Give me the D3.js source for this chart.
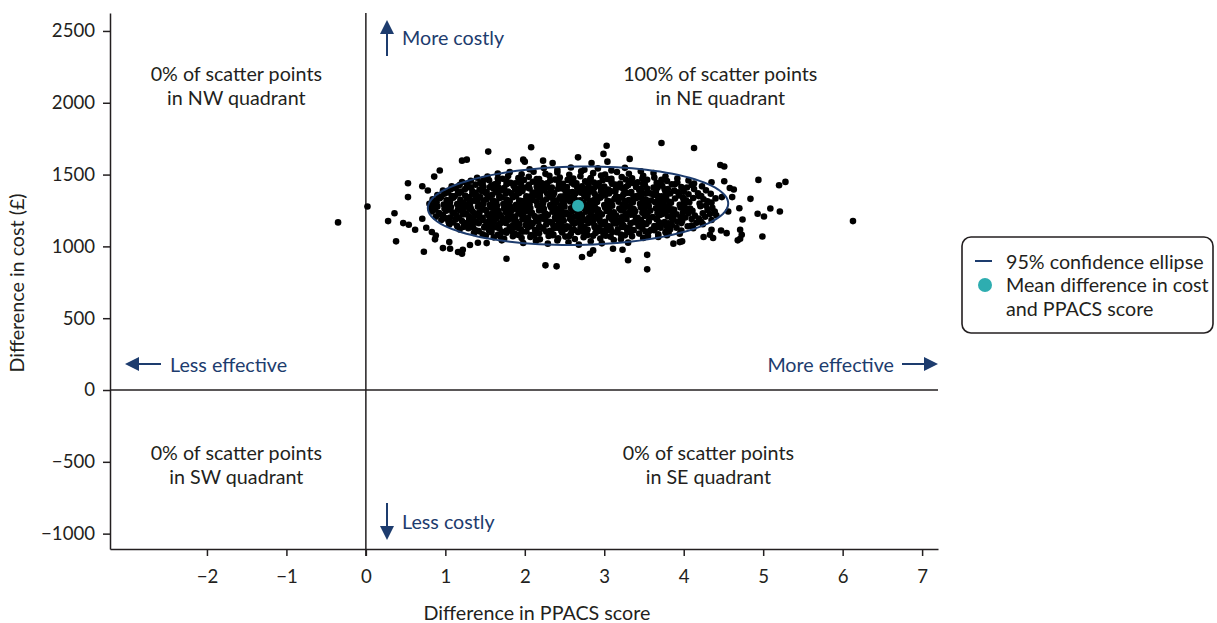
<!DOCTYPE html>
<html>
<head>
<meta charset="utf-8">
<script src="https://cdn.jsdelivr.net/npm/d3@7"></script>
<style>
  html, body { margin: 0; padding: 0; background: #fff; }
  svg { display: block; font-family: Lato, "Open Sans", sans-serif; }
</style>
</head>
<body>
<svg id="chart" width="1217" height="623"></svg>
<script>
// Bootstrap replicates: [difference in PPACS score, difference in cost (£)]
const scatterCore = [
  [1.98,1024],[2.14,1037],[2.29,1019],[2.41,1041],[2.55,1028],[2.68,1012],[2.83,1035],[2.97,1021],[3.12,1044],[3.30,1026],
  [1.61,1063],[1.74,1052],[1.85,1071],[1.96,1058],[2.07,1066],[2.19,1049],[2.30,1072],[2.42,1057],[2.51,1068],[2.63,1051],
  [2.74,1064],[2.86,1074],[2.95,1055],[3.08,1067],[3.21,1050],[3.35,1070],[3.49,1059],[3.68,1066],
  [1.36,1093],[1.47,1084],[1.58,1099],[1.66,1081],[1.77,1095],[1.88,1086],[1.97,1102],[2.08,1079],[2.18,1091],[2.27,1104],
  [2.36,1083],[2.47,1097],[2.58,1088],[2.67,1101],[2.78,1080],[2.89,1094],[2.99,1087],[3.10,1100],[3.21,1082],[3.33,1096],
  [3.44,1089],[3.56,1103],[3.68,1084],[3.81,1095],[3.95,1088],
  [1.18,1118],[1.29,1127],[1.38,1112],[1.49,1131],[1.58,1116],[1.68,1125],[1.77,1110],[1.86,1129],[1.95,1119],[2.04,1133],
  [2.13,1114],[2.23,1124],[2.32,1109],[2.41,1130],[2.51,1121],[2.60,1112],[2.70,1128],[2.79,1117],[2.88,1134],[2.98,1111],
  [3.08,1126],[3.17,1119],[3.27,1132],[3.37,1113],[3.48,1124],[3.59,1115],[3.71,1130],[3.83,1120],[3.97,1111],[4.12,1127],
  [1.05,1152],[1.15,1141],[1.24,1158],[1.33,1146],[1.42,1161],[1.50,1139],[1.59,1155],[1.67,1147],[1.76,1163],[1.84,1142],
  [1.93,1156],[2.01,1149],[2.10,1160],[2.19,1138],[2.27,1153],[2.36,1145],[2.45,1162],[2.53,1140],[2.62,1157],[2.71,1148],
  [2.80,1163],[2.88,1143],[2.97,1154],[3.06,1139],[3.15,1159],[3.24,1147],[3.33,1161],[3.43,1144],[3.53,1156],[3.63,1141],
  [3.74,1158],[3.85,1149],[3.97,1162],[4.10,1145],[4.24,1155],
  [0.95,1183],[1.04,1171],[1.13,1188],[1.21,1176],[1.30,1191],[1.38,1169],[1.47,1184],[1.55,1177],[1.64,1192],[1.72,1170],
  [1.80,1186],[1.89,1174],[1.97,1189],[2.06,1168],[2.14,1182],[2.23,1193],[2.31,1172],[2.40,1187],[2.49,1178],[2.57,1190],
  [2.66,1167],[2.75,1184],[2.83,1175],[2.92,1192],[3.01,1171],[3.10,1185],[3.19,1179],[3.28,1191],[3.37,1168],[3.46,1183],
  [3.56,1174],[3.66,1189],[3.76,1170],[3.87,1186],[3.98,1177],[4.10,1190],[4.22,1172],[4.35,1184],
  [0.88,1207],[0.97,1218],[1.06,1201],[1.14,1214],[1.22,1222],[1.31,1204],[1.39,1216],[1.47,1199],[1.55,1211],[1.63,1223],
  [1.71,1203],[1.79,1215],[1.88,1208],[1.96,1221],[2.04,1198],[2.12,1212],[2.21,1205],[2.29,1219],[2.38,1200],[2.46,1213],
  [2.55,1224],[2.63,1206],[2.72,1217],[2.80,1198],[2.89,1210],[2.97,1222],[3.06,1202],[3.15,1215],[3.24,1207],[3.33,1220],
  [3.42,1199],[3.51,1212],[3.61,1204],[3.70,1218],[3.80,1209],[3.91,1223],[4.02,1201],[4.14,1214],[4.27,1206],[4.41,1217],
  [0.83,1243],[0.92,1232],[1.01,1248],[1.09,1237],[1.18,1251],[1.26,1229],[1.34,1244],[1.43,1236],[1.51,1252],[1.59,1230],
  [1.67,1246],[1.76,1238],[1.84,1253],[1.92,1231],[2.01,1245],[2.09,1234],[2.18,1250],[2.26,1228],[2.35,1242],[2.43,1254],
  [2.52,1235],[2.60,1247],[2.69,1229],[2.77,1241],[2.86,1253],[2.94,1233],[3.03,1246],[3.12,1237],[3.21,1251],[3.30,1230],
  [3.39,1244],[3.48,1235],[3.58,1249],[3.67,1232],[3.77,1243],[3.88,1255],[3.99,1236],[4.11,1248],[4.24,1231],[4.39,1242],
  [0.81,1268],[0.90,1277],[0.99,1262],[1.07,1274],[1.16,1259],[1.24,1281],[1.32,1266],[1.41,1276],[1.49,1258],[1.57,1271],
  [1.65,1283],[1.74,1263],[1.82,1275],[1.90,1260],[1.99,1279],[2.07,1267],[2.16,1284],[2.24,1261],[2.33,1273],[2.41,1259],
  [2.50,1278],[2.58,1266],[2.67,1282],[2.75,1262],[2.84,1274],[2.92,1257],[3.01,1270],[3.10,1283],[3.19,1264],[3.28,1276],
  [3.37,1260],[3.46,1272],[3.56,1281],[3.65,1265],[3.75,1277],[3.85,1258],[3.96,1271],[4.08,1263],[4.21,1279],[4.36,1268],
  [0.80,1297],[0.89,1306],[0.98,1291],[1.06,1309],[1.15,1294],[1.23,1303],[1.31,1288],[1.40,1311],[1.48,1299],[1.56,1290],
  [1.64,1307],[1.73,1295],[1.81,1312],[1.89,1289],[1.98,1302],[2.06,1293],[2.15,1310],[2.23,1298],[2.32,1287],[2.40,1305],
  [2.49,1296],[2.57,1313],[2.66,1291],[2.74,1304],[2.83,1293],[2.91,1309],[3.00,1288],[3.09,1301],[3.18,1311],[3.27,1292],
  [3.36,1306],[3.45,1297],[3.55,1289],[3.64,1308],[3.74,1295],[3.84,1303],[3.95,1290],[4.07,1307],[4.20,1298],[4.35,1305],
  [0.84,1327],[0.93,1336],[1.02,1321],[1.10,1339],[1.19,1324],[1.27,1333],[1.35,1318],[1.44,1341],[1.52,1329],[1.60,1320],
  [1.68,1337],[1.77,1325],[1.85,1342],[1.93,1319],[2.02,1332],[2.10,1323],[2.19,1340],[2.27,1328],[2.36,1317],[2.44,1335],
  [2.53,1326],[2.61,1343],[2.70,1321],[2.78,1334],[2.87,1323],[2.95,1339],[3.04,1318],[3.13,1331],[3.22,1341],[3.31,1322],
  [3.40,1336],[3.49,1327],[3.59,1319],[3.68,1338],[3.78,1325],[3.89,1333],[4.00,1320],[4.12,1337],[4.25,1328],[4.40,1334],
  [0.90,1357],[0.99,1366],[1.08,1351],[1.17,1369],[1.25,1354],[1.34,1363],[1.42,1348],[1.51,1371],[1.59,1359],[1.68,1350],
  [1.76,1367],[1.85,1355],[1.93,1372],[2.02,1349],[2.10,1362],[2.19,1353],[2.28,1370],[2.36,1358],[2.45,1347],[2.53,1365],
  [2.62,1356],[2.71,1373],[2.79,1351],[2.88,1364],[2.97,1353],[3.06,1369],[3.15,1348],[3.24,1361],[3.33,1371],[3.42,1352],
  [3.52,1366],[3.62,1357],[3.72,1349],[3.83,1368],[3.94,1355],[4.06,1363],[4.19,1350],[4.34,1367],
  [0.97,1388],[1.07,1397],[1.16,1382],[1.25,1400],[1.34,1385],[1.43,1394],[1.52,1379],[1.61,1402],[1.70,1390],[1.79,1381],
  [1.88,1398],[1.97,1386],[2.06,1403],[2.15,1380],[2.24,1393],[2.33,1384],[2.42,1401],[2.51,1389],[2.60,1378],[2.69,1396],
  [2.78,1387],[2.87,1404],[2.96,1382],[3.05,1395],[3.14,1384],[3.24,1400],[3.34,1379],[3.44,1392],[3.54,1402],[3.65,1383],
  [3.76,1397],[3.88,1388],[4.00,1380],[4.13,1399],[4.28,1390],
  [1.08,1418],[1.18,1427],[1.28,1412],[1.38,1430],[1.48,1415],[1.58,1424],[1.67,1409],[1.77,1432],[1.86,1420],[1.96,1411],
  [2.05,1428],[2.15,1416],[2.24,1433],[2.34,1410],[2.43,1423],[2.53,1414],[2.62,1431],[2.72,1419],[2.81,1408],[2.91,1426],
  [3.00,1417],[3.10,1434],[3.20,1412],[3.30,1425],[3.40,1414],[3.51,1430],[3.62,1409],[3.73,1422],[3.85,1432],[3.97,1413],
  [4.10,1427],[4.23,1418],
  [1.21,1448],[1.32,1457],[1.44,1442],[1.55,1460],[1.66,1445],[1.77,1454],[1.88,1439],[1.99,1462],[2.10,1450],[2.21,1441],
  [2.32,1458],[2.43,1446],[2.54,1463],[2.65,1440],[2.76,1453],[2.87,1444],[2.98,1461],[3.09,1449],[3.20,1438],[3.31,1456],
  [3.42,1447],[3.54,1464],[3.66,1442],[3.79,1455],[3.92,1444],[4.06,1459],
  [1.40,1478],[1.53,1487],[1.66,1472],[1.79,1490],[1.92,1475],[2.05,1484],[2.18,1469],[2.31,1492],[2.44,1480],[2.57,1471],
  [2.70,1488],[2.83,1476],[2.96,1493],[3.09,1470],[3.22,1483],[3.35,1474],[3.49,1491],[3.63,1479],[3.77,1486],[3.92,1473],
  [1.66,1508],[1.81,1517],[1.96,1502],[2.11,1520],[2.26,1505],[2.41,1514],[2.56,1499],[2.71,1522],[2.86,1510],[3.01,1501],
  [3.16,1518],[3.31,1506],[3.46,1523],[3.62,1511],
  [2.06,1537],[2.24,1546],[2.41,1531],[2.58,1549],[2.75,1534],[2.92,1543],[3.09,1529],[3.26,1547]
];

// Further replicates packed in the dense centre of the cloud
const scatterDense = [
  [1.51,1076],[1.69,1071],[1.92,1079],[2.12,1074],[2.35,1078],[2.56,1072],[2.79,1079],[3.02,1074],[3.26,1077],[3.55,1072],[3.79,1078],
  [1.42,1106],[1.55,1112],[1.71,1101],[1.83,1108],[2.02,1104],[2.14,1113],[2.33,1099],[2.46,1109],[2.62,1115],[2.73,1102],
  [2.93,1107],[3.05,1113],[3.16,1098],[3.29,1110],[3.52,1104],[3.63,1112],[3.77,1099],
  [1.23,1136],[1.35,1131],[1.53,1140],[1.64,1133],[1.81,1137],[1.91,1129],[2.08,1141],[2.18,1134],[2.37,1128],[2.47,1139],
  [2.56,1132],[2.75,1136],[2.93,1130],[3.03,1142],[3.22,1135],[3.32,1128],[3.44,1139],[3.66,1133],[3.79,1137],[3.91,1130],[4.05,1140],
  [1.10,1166],[1.27,1162],[1.35,1170],[1.52,1165],[1.61,1172],[1.69,1160],[1.87,1167],[2.03,1163],[2.17,1171],[2.34,1166],
  [2.43,1159],[2.60,1168],[2.69,1173],[2.86,1164],[2.95,1170],[3.12,1161],[3.22,1166],[3.40,1172],[3.49,1163],[3.69,1168],
  [3.81,1160],[3.92,1171],[4.16,1165],
  [1.01,1195],[1.17,1199],[1.35,1192],[1.43,1201],[1.59,1196],[1.76,1189],[1.85,1198],[2.00,1194],[2.17,1200],[2.26,1191],
  [2.42,1197],[2.59,1202],[2.69,1193],[2.85,1199],[2.94,1190],[3.13,1196],[3.22,1203],[3.40,1194],[3.57,1200],[3.66,1191],
  [3.85,1197],[3.96,1203],[4.19,1194],
  [0.93,1226],[1.11,1230],[1.27,1222],[1.37,1231],[1.53,1226],[1.69,1219],[1.82,1229],[1.98,1224],[2.07,1232],[2.25,1223],
  [2.40,1228],[2.50,1220],[2.67,1230],[2.83,1225],[2.92,1233],[3.08,1222],[3.27,1228],[3.37,1220],[3.54,1231],[3.73,1226],
  [3.86,1219],[4.06,1230],[4.33,1225],
  [0.87,1256],[1.05,1261],[1.22,1253],[1.30,1262],[1.46,1257],[1.62,1250],[1.79,1260],[1.95,1255],[2.04,1263],[2.21,1254],
  [2.38,1259],[2.46,1251],[2.64,1261],[2.81,1256],[2.89,1264],[3.06,1252],[3.24,1258],[3.33,1250],[3.51,1262],[3.70,1257],
  [3.82,1250],[4.03,1261],[4.30,1254],
  [0.85,1286],[1.03,1291],[1.19,1282],[1.28,1292],[1.45,1287],[1.61,1280],[1.77,1290],[1.94,1285],[2.03,1293],[2.20,1283],
  [2.37,1289],[2.45,1280],[2.62,1291],[2.79,1286],[2.88,1294],[3.05,1282],[3.23,1288],[3.32,1279],[3.50,1292],[3.69,1287],
  [3.80,1280],[4.01,1291],[4.28,1284],
  [0.88,1316],[1.02,1321],[1.19,1312],[1.31,1322],[1.48,1317],[1.62,1310],[1.79,1320],[1.96,1315],[2.06,1323],[2.23,1313],
  [2.40,1319],[2.48,1310],[2.65,1321],[2.82,1316],[2.91,1324],[3.08,1312],[3.26,1318],[3.35,1309],[3.53,1322],[3.71,1317],
  [3.82,1310],[4.03,1321],[4.30,1314],
  [0.95,1346],[1.12,1351],[1.29,1342],[1.38,1352],[1.55,1347],[1.71,1340],[1.89,1350],[2.06,1345],[2.15,1353],[2.32,1343],
  [2.49,1349],[2.57,1340],[2.75,1351],[2.92,1346],[3.01,1354],[3.19,1342],[3.37,1348],[3.46,1339],[3.67,1352],[3.78,1347],
  [3.99,1340],[4.22,1351],
  [1.03,1376],[1.20,1381],[1.38,1372],[1.47,1382],[1.64,1377],[1.83,1370],[1.91,1380],[2.10,1375],[2.20,1383],[2.37,1373],
  [2.55,1379],[2.64,1370],[2.82,1381],[3.00,1376],[3.09,1384],[3.28,1372],[3.47,1378],[3.58,1369],[3.77,1382],[3.93,1377],[4.18,1370],
  [1.13,1406],[1.32,1411],[1.46,1402],[1.56,1412],[1.74,1407],[1.92,1400],[2.01,1410],[2.19,1405],[2.29,1413],[2.47,1403],
  [2.66,1409],[2.76,1400],[2.95,1411],[3.15,1406],[3.27,1414],[3.46,1402],[3.67,1408],[3.80,1399],[4.04,1410],
  [1.27,1436],[1.47,1441],[1.62,1432],[1.82,1442],[1.95,1437],[2.16,1430],[2.28,1440],[2.48,1435],[2.59,1443],[2.80,1433],
  [2.93,1439],[3.14,1430],[3.36,1441],[3.49,1436],[3.71,1443],[3.89,1432],[4.13,1438],
  [1.48,1466],[1.72,1471],[1.94,1462],[2.15,1469],[2.38,1465],[2.61,1472],[2.82,1463],[3.04,1470],[3.27,1466],[3.48,1472],[3.72,1464]
];

// Replicates lying outside the confidence ellipse
const scatterOuter = [
  [-0.35,1167],[0.02,1278],[1.21,1597],[1.27,1604],[0.93,1528],[0.86,1486],[0.53,1440],[0.71,1419],[0.78,1389],
  [0.53,1343],[0.36,1231],[0.28,1176],[0.47,1162],[0.54,1151],[0.62,1116],[0.71,1192],[0.38,1035],[0.73,963],
  [0.87,1049],[0.97,988],[1.06,984],[1.05,1030],[1.16,961],[1.21,949],[1.22,977],[0.83,1100],[0.76,1130],[0.88,1075],
  [1.54,1660],[2.08,1690],[1.79,1593],[1.98,1604],[2.00,1590],[1.77,914],[1.41,1025],[1.52,1023],[1.71,1042],[1.31,1010],
  [2.67,1620],[2.84,1581],[2.23,1597],[2.35,1581],[2.72,926],[2.82,949],[2.86,972],[2.26,868],[2.40,861],
  [3.72,1720],[3.03,1701],[2.99,1644],[3.32,1609],[3.04,1590],[3.54,941],[3.30,903],[3.54,840],[3.11,984],[3.23,977],
  [3.87,1019],[3.95,1030],[4.13,1685],[4.46,1567],[4.51,1556],[4.35,1447],[4.51,1454],[4.58,1407],[4.63,1396],
  [4.61,1343],[4.48,1343],[4.84,1331],[4.70,1266],[4.56,1243],[4.74,1187],[4.47,1111],[4.54,1092],[4.35,1116],
  [4.33,1081],[4.25,1065],[4.37,1058],[3.98,1035],[4.68,1042],[4.71,1116],[4.71,1053],[4.94,1463],[5.20,1426],
  [5.28,1449],[5.09,1264],[4.93,1227],[5.01,1208],[5.21,1243],[4.73,1081],[4.99,1069],[6.13,1176]
];

// Mean difference and 95% confidence ellipse parameters
const meanPoint = [2.67, 1283];
const ellipseRadii = [1.89, 273];   // score units, £
const ellipseTilt = 16;             // £ shift along the major axis

const xTicks = [-2, -1, 0, 1, 2, 3, 4, 5, 6, 7];
const yTicks = [-1000, -500, 0, 500, 1000, 1500, 2000, 2500];

const quadrantLabels = [
  { x: -1.63, y: 2150, lines: ["0% of scatter points", "in NW quadrant"] },
  { x: 4.46,  y: 2150, lines: ["100% of scatter points", "in NE quadrant"] },
  { x: -1.63, y: -485, lines: ["0% of scatter points", "in SW quadrant"] },
  { x: 4.31,  y: -485, lines: ["0% of scatter points", "in SE quadrant"] }
];

const legendItems = ["95% confidence ellipse", "Mean difference in cost", "and PPACS score"];

const navy = "#1d3c6e";
const teal = "#2eadb0";
const ink = "#231f20";
const fontSize = "19.7px";

const svg = d3.select("#chart");

const x = d3.scaleLinear().domain([-3.22, 7.2]).range([110, 938]);
const y = d3.scaleLinear().domain([-1107, 2625]).range([549, 13]);

// Axes
const xAxis = svg.append("g")
  .attr("transform", `translate(0,${y.range()[0]})`)
  .call(d3.axisBottom(x).tickValues(xTicks).tickSize(7).tickSizeOuter(0).tickPadding(14).tickFormat(d3.format("d")));
const yAxis = svg.append("g")
  .attr("transform", `translate(${x.range()[0]},0)`)
  .call(d3.axisLeft(y).tickValues(yTicks).tickSize(7).tickSizeOuter(0).tickPadding(8).tickFormat(d3.format("d")));
[xAxis, yAxis].forEach(g => {
  g.selectAll("path, line").attr("stroke", ink).attr("stroke-width", 1.5);
  g.selectAll("text").attr("fill", ink).style("font-size", "18.6px").style("font-family", "Lato, sans-serif");
});

// Zero reference lines splitting the plane into quadrants
svg.append("line")
  .attr("x1", x(0)).attr("x2", x(0)).attr("y1", y.range()[1]).attr("y2", y.range()[0] + 7)
  .attr("stroke", ink).attr("stroke-width", 1.5);
svg.append("line")
  .attr("x1", x.range()[0]).attr("x2", x.range()[1]).attr("y1", y(0)).attr("y2", y(0))
  .attr("stroke", ink).attr("stroke-width", 1.5);

// Scatter of replicates
svg.append("g")
  .selectAll("circle")
  .data(scatterCore.concat(scatterDense, scatterOuter))
  .join("circle")
  .attr("cx", d => x(d[0]))
  .attr("cy", d => y(d[1]))
  .attr("r", 3.3)
  .attr("fill", "#000");

// Confidence ellipse
const ellipsePts = d3.range(0, 361, 3).map(a => {
  const t = a * Math.PI / 180;
  return [meanPoint[0] + ellipseRadii[0] * Math.cos(t),
          meanPoint[1] + ellipseRadii[1] * Math.sin(t) + ellipseTilt * Math.cos(t)];
});
svg.append("path")
  .attr("d", d3.line().x(d => x(d[0])).y(d => y(d[1])).curve(d3.curveLinearClosed)(ellipsePts))
  .attr("fill", "none")
  .attr("stroke", navy)
  .attr("stroke-width", 2);

// Mean point
svg.append("circle")
  .attr("cx", x(meanPoint[0])).attr("cy", y(meanPoint[1]))
  .attr("r", 6).attr("fill", teal);

// Quadrant annotations
quadrantLabels.forEach(q => {
  const t = svg.append("text")
    .attr("x", x(q.x)).attr("y", y(q.y))
    .attr("text-anchor", "middle")
    .attr("fill", ink)
    .style("font-size", fontSize);
  q.lines.forEach((l, i) => t.append("tspan").attr("x", x(q.x)).attr("dy", i === 0 ? 0 : 24).text(l));
});

// Direction arrows
function arrow(x1, y1, x2, y2) {
  const ang = Math.atan2(y2 - y1, x2 - x1);
  const hl = 14, hw = 7;
  const bx = x2 - hl * Math.cos(ang), by = y2 - hl * Math.sin(ang);
  svg.append("line").attr("x1", x1).attr("y1", y1).attr("x2", bx).attr("y2", by)
    .attr("stroke", navy).attr("stroke-width", 2);
  const px = -Math.sin(ang) * hw, py = Math.cos(ang) * hw;
  svg.append("path")
    .attr("d", `M${x2},${y2}L${bx + px},${by + py}L${bx - px},${by - py}Z`)
    .attr("fill", navy);
}
function arrowLabel(px, py, txt, anchor) {
  svg.append("text").attr("x", px).attr("y", py).attr("text-anchor", anchor)
    .attr("dominant-baseline", "central")
    .attr("fill", navy).style("font-size", fontSize).text(txt);
}
arrow(387, 56, 387, 20);
arrowLabel(402, 37, "More costly", "start");
arrow(387, 503, 387, 540);
arrowLabel(402, 521, "Less costly", "start");
arrow(161, 364, 125, 364);
arrowLabel(170, 364, "Less effective", "start");
arrow(902, 364, 938, 364);
arrowLabel(894, 364, "More effective", "end");

// Axis titles
svg.append("text")
  .attr("x", 537).attr("y", 620)
  .attr("text-anchor", "middle").attr("fill", ink).style("font-size", fontSize)
  .text("Difference in PPACS score");
svg.append("text")
  .attr("transform", `translate(24,${283}) rotate(-90)`)
  .attr("text-anchor", "middle").attr("fill", ink).style("font-size", fontSize)
  .text("Difference in cost (£)");

// Legend
const lg = svg.append("g").attr("transform", "translate(962,237)");
lg.append("rect").attr("width", 251).attr("height", 96).attr("rx", 9)
  .attr("fill", "#fff").attr("stroke", ink).attr("stroke-width", 1.6);
lg.append("line").attr("x1", 13).attr("x2", 30).attr("y1", 24).attr("y2", 24)
  .attr("stroke", navy).attr("stroke-width", 2);
lg.append("circle").attr("cx", 23).attr("cy", 48).attr("r", 7).attr("fill", teal);
legendItems.forEach((t, i) => {
  lg.append("text").attr("x", 44).attr("y", 24 + i * 23.5)
    .attr("dominant-baseline", "central")
    .attr("fill", ink).style("font-size", fontSize).text(t);
});
</script>
</body>
</html>
